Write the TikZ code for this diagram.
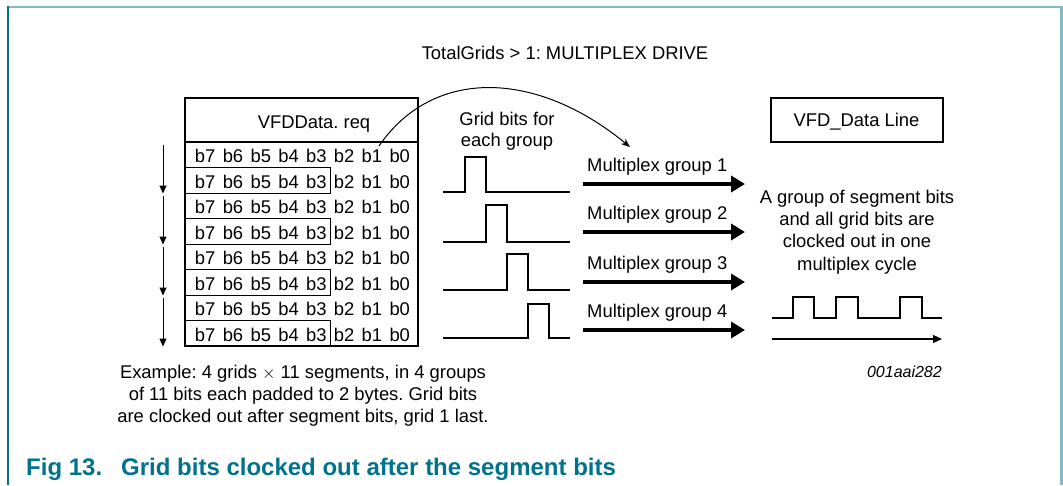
\documentclass[tikz,border=0pt]{standalone}
\usepackage{fontspec}
\setmainfont{Liberation Sans}
\usetikzlibrary{arrows.meta}
\definecolor{nxpdark}{RGB}{0,114,140}
\definecolor{nxplight}{RGB}{128,186,198}
\tikzset{
  txt/.style={inner sep=0pt, font=\fontsize{18.4}{22}\selectfont},
  bitrow/.style={txt, anchor=base, execute at begin node={\spaceskip=7.33pt\relax}},
  outer/.style={draw, line width=2pt},
  rowbox/.style={draw, line width=1pt},
  downarr/.style={line width=1pt, -{Triangle[length=8pt,width=7pt]}},
  curvearr/.style={line width=1pt, -{Stealth[length=9pt,width=7pt]}},
  pulse/.style={line width=2pt},
  bigarr/.style={line width=4.5pt, -{Triangle[length=14pt,width=16pt]}},
  timearr/.style={line width=1.1pt, -{Triangle[length=9pt,width=8pt]}},
  captxt/.style={inner sep=0pt, anchor=base west, text=nxpdark, font=\fontsize{24}{28}\selectfont\bfseries},
}
\begin{document}
\frenchspacing
\begin{tikzpicture}[x=1pt,y=-1pt]
\useasboundingbox (0,0) rectangle (1063,485);
% frame
\draw[nxplight, line width=2pt] (8,6.5) -- (1063,6.5);
\draw[nxplight, line width=2.5pt] (1061.5,6.5) -- (1061.5,485);
\draw[nxpdark, line width=1.5pt] (8.2,6) -- (8.2,485);
% title
\node[txt, anchor=base] (title) at (565,59.3) {TotalGrids > 1: MULTIPLEX DRIVE};
% table
\node[outer, minimum width=233pt, minimum height=44pt, inner sep=0pt] (hdr) at (301.5,120) {};
\node[txt, anchor=base] (hdrtxt) at (314,128.3) {VFDData. req};
\node[outer, minimum width=233pt, minimum height=204pt, inner sep=0pt] (body) at (301.5,244) {};
\foreach \i in {2,4,6,8}
  \draw[rowbox] (185,{142+25.5*(\i-1)}) rectangle (330,{142+25.5*\i});
\foreach \i in {1,...,8}
  \node[bitrow] (r\i) at (302.5,{137+25.5*\i}) {b7 b6 b5 b4 b3 b2 b1 b0};
% left arrows
\foreach \k in {0,...,3}{
  \coordinate (as\k) at (163,{145+51*\k});
  \coordinate (ae\k) at (163,{193.5+51*\k});
  \draw[downarr] (as\k) -- (ae\k);
}
% curved arrow
\coordinate (cstart) at (379,146);
\coordinate (cend) at (630,147);
\draw[curvearr] (cstart) .. controls (433.5,66.7) and (536.8,70.3) .. (cend);
% grid bits label
\node[txt, anchor=base] (gb1) at (507,125) {Grid bits for};
\node[txt, anchor=base] (gb2) at (507,146) {each group};
% pulses
\foreach \by/\hy/\rx in {192/157/465, 242/205/486, 290/254/507, 338/304/528}{
  \draw[pulse] (443,\by) -- (\rx,\by) -- (\rx,\hy) -- ({\rx+21},\hy) -- ({\rx+21},\by) -- (570,\by);
}
% multiplex arrows
\foreach \n/\ay in {1/184, 2/232, 3/282, 4/330}{
  \coordinate (ms\n) at (583,\ay);
  \coordinate (me\n) at (745,\ay);
  \draw[bigarr] (ms\n) -- (me\n);
  \node[txt, anchor=base west] (ml\n) at (587,{\ay-12.3}) {Multiplex group \n};
}
% right side
\node[outer, minimum width=172pt, minimum height=44pt, inner sep=0pt] (vfd) at (857,120) {};
\node[txt, anchor=base] (vfdtxt) at (856.5,126.7) {VFD\_Data Line};
\node[txt, anchor=base] (d1) at (857,203.3) {A group of segment bits};
\node[txt, anchor=base] (d2) at (857,225.6) {and all grid bits are};
\node[txt, anchor=base] (d3) at (857,247.9) {clocked out in one};
\node[txt, anchor=base] (d4) at (857,270.2) {multiplex cycle};
\draw[pulse] (772,318) -- (793,318) -- (793,297) -- (814,297) -- (814,318) -- (836,318) -- (836,297) -- (858,297) -- (858,318) -- (900,318) -- (900,297) -- (922,297) -- (922,318) -- (942,318);
\coordinate (ts) at (772,339);
\coordinate (te) at (942,339);
\draw[timearr] (ts) -- (te);
\node[inner sep=0pt, anchor=base east, font=\fontsize{16}{19}\selectfont\itshape] (code) at (942,377.7) {001aai282};
% example text
\node[txt, anchor=base] (ex1) at (303,378.5) {Example: 4 grids $\times$ 11 segments, in 4 groups};
\node[txt, anchor=base] (ex2) at (303,400.5) {of 11 bits each padded to 2 bytes. Grid bits};
\node[txt, anchor=base] (ex3) at (303,422.5) {are clocked out after segment bits, grid 1 last.};
% caption
\node[captxt] (fig) at (26,475) {Fig 13.};
\node[captxt] (cap) at (121,475) {Grid bits clocked out after the segment bits};
\end{tikzpicture}
\end{document}
